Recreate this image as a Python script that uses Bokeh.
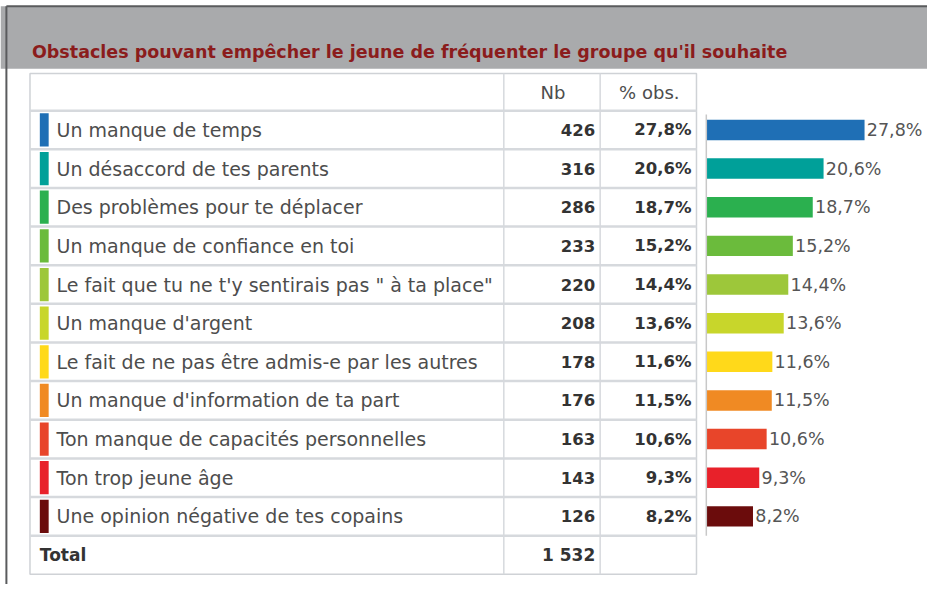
from bokeh.plotting import figure
from bokeh.models import Range1d
from bokeh.core.properties import value
from bokeh.embed import file_html
from bokeh.resources import INLINE

title = "Obstacles pouvant empêcher le jeune de fréquenter le groupe qu'il souhaite"
headers = ["Nb", "% obs."]
labels = [
    "Un manque de temps",
    "Un désaccord de tes parents",
    "Des problèmes pour te déplacer",
    "Un manque de confiance en toi",
    "Le fait que tu ne t'y sentirais pas \" à ta place\"",
    "Un manque d'argent",
    "Le fait de ne pas être admis-e par les autres",
    "Un manque d'information de ta part",
    "Ton manque de capacités personnelles",
    "Ton trop jeune âge",
    "Une opinion négative de tes copains",
]
nb = [426, 316, 286, 233, 220, 208, 178, 176, 163, 143, 126]
pct = [27.8, 20.6, 18.7, 15.2, 14.4, 13.6, 11.6, 11.5, 10.6, 9.3, 8.2]
colors = ["#1f6fb5", "#00a099", "#2bb04f", "#6bbb3c", "#9dc73a", "#c8d62b",
          "#ffd91a", "#f08a23", "#e8452a", "#e8212a", "#6b0c0c"]
total_label = "Total"
total_nb = "1 532"

def fmt(v):
    return ("%.1f" % v).replace(".", ",") + "%"

# canvas coordinates follow the reference picture (943 x 600)
RW, RH = 943, 600
p = figure(width=927, height=584, output_backend="svg", toolbar_location=None,
           x_range=Range1d(0, RW), y_range=Range1d(RH, 0),
           min_border=0, outline_line_color=None)
p.axis.visible = False
p.grid.visible = False
p.background_fill_color = "white"

# row scale: row index -> y
ROW0, ROWH = 133.0, 39.7
p.extra_y_ranges = {"rows": Range1d((RH - ROW0) / ROWH, (0 - ROW0) / ROWH)}
# bar scale: percent -> x
BX0, BPX = 718.0, 5.79
p.extra_x_ranges = {"bar": Range1d((0 - BX0) / BPX, (RW - BX0) / BPX)}

FONT = value("DejaVu Sans")
n = len(labels)
idx = list(range(n))

# frame and title band
p.quad(left=0, right=RW, top=6, bottom=70, fill_color="#a9aaac", line_color=None)
p.segment(x0=[6, 6], y0=[6, 6], x1=[6, RW], y1=[RH, 6], line_color="#5a5b5d", line_width=2)
p.text(x=[32], y=[53], text=[title], text_font=FONT, text_font_style="bold",
       text_font_size="17.5px", text_color="#8b1c1c", text_baseline="middle")

# table background
p.quad(left=30, right=708, top=-1.46, bottom=11.5, y_range_name="rows",
       fill_color="white", line_color="#cfd2d6", line_width=1.5)
hy = [i + 0.5 for i in range(-1, n)]
p.segment(x0=[30] * len(hy), x1=[708] * len(hy), y0=hy, y1=hy, y_range_name="rows",
          line_color="#d6d9dd", line_width=2.5)
vx = [512, 610]
p.segment(x0=vx, x1=vx, y0=[-1.46] * 2, y1=[11.5] * 2, y_range_name="rows",
          line_color="#d6d9dd", line_width=1.5)

# headers
p.text(x=[562, 660], y=[-0.96, -0.96], text=headers, y_range_name="rows",
       text_font=FONT, text_font_size="18px", text_color="#4d4d4d",
       text_align="center", text_baseline="middle")

# indicators
p.quad(left=40, right=49, top=[i - 0.43 for i in idx], bottom=[i + 0.43 for i in idx],
       fill_color=colors, line_color=None, y_range_name="rows")
# labels
p.text(x=[57] * n, y=idx, text=labels, y_range_name="rows", text_font=FONT,
       text_font_size="19px", text_color="#4d4d4d", text_baseline="middle")
p.text(x=[605] * n, y=idx, text=[str(v) for v in nb], y_range_name="rows", text_font=FONT,
       text_font_style="bold", text_font_size="16.5px", text_color="#333333",
       text_align="right", text_baseline="middle")
p.text(x=[703] * n, y=idx, text=[fmt(v) for v in pct], y_range_name="rows", text_font=FONT,
       text_font_style="bold", text_font_size="16.5px", text_color="#333333",
       text_align="right", text_baseline="middle")
# total
p.text(x=[40], y=[n], text=[total_label], y_range_name="rows", text_font=FONT,
       text_font_style="bold", text_font_size="17px", text_color="#333333", text_baseline="middle")
p.text(x=[605], y=[n], text=[total_nb], y_range_name="rows", text_font=FONT,
       text_font_style="bold", text_font_size="17px", text_color="#333333",
       text_align="right", text_baseline="middle")

# bars
p.hbar(y=idx, left=0, right=pct, height=0.53, fill_color=colors, line_color=None,
       x_range_name="bar", y_range_name="rows")
p.segment(x0=[0], x1=[0], y0=[-0.4], y1=[n - 0.5], x_range_name="bar", y_range_name="rows",
          line_color="#c8c8c8", line_width=1.5)
p.text(x=[v + 0.4 for v in pct], y=idx, text=[fmt(v) for v in pct], x_range_name="bar",
       y_range_name="rows", text_font=FONT, text_font_size="17.5px", text_color="#555555",
       text_baseline="middle")

open("out.html", "w").write(file_html(p, INLINE))
